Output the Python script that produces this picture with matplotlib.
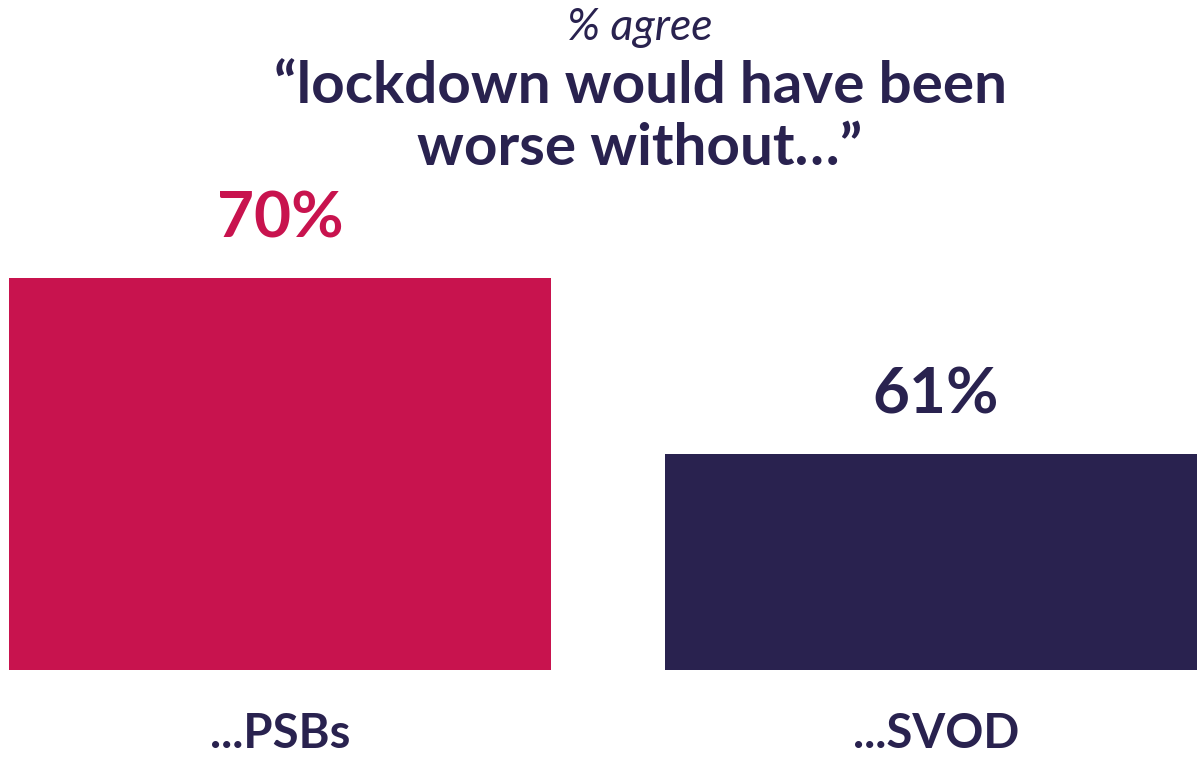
import matplotlib.pyplot as plt

# ---------- data ----------
categories = ["...PSBs", "...SVOD"]
values = [70, 61]
value_labels = ["70%", "61%"]

# ---------- style ----------
crimson = "#C8134E"
navy = "#29224F"
bar_colors = [crimson, navy]
font = "Lato"

fig = plt.figure(figsize=(11.97, 7.57), dpi=100)
fig.patch.set_facecolor("white")

# axes bottom sits on bar baseline, axis does not start at zero
ax = fig.add_axes([0, 87 / 757, 1, 670 / 757])
ax.bar(range(len(values)), values, width=0.826, color=bar_colors, bottom=0)
ax.set_ylim(50, 50 + 670 / 19.6)
ax.set_xlim(-0.427, 1.398)
ax.axis("off")

for i, (v, lab) in enumerate(zip(values, value_labels)):
    ax.annotate(lab, (i, v), xytext=(0, 22), textcoords="offset points",
                ha="center", va="bottom", fontsize=46, fontweight="bold",
                color=bar_colors[i], family=font)

for i, cat in enumerate(categories):
    ax.annotate(cat, (i, 50), xytext=(0, -56), textcoords="offset points",
                ha="center", va="baseline", fontsize=34, fontweight="bold",
                color=navy, family=font)

fig.text(640 / 1197, 1 - 40 / 757, "% agree", ha="center", va="baseline",
         fontsize=32, style="italic", color=navy, family=font)
fig.text(640 / 1197, 1 - 103 / 757, "\u201clockdown would have been",
         ha="center", va="baseline", fontsize=42, fontweight="bold",
         color=navy, family=font)
fig.text(640 / 1197, 1 - 165 / 757, "worse without\u2026\u201d",
         ha="center", va="baseline", fontsize=42, fontweight="bold",
         color=navy, family=font)

fig.savefig("out.png", dpi=100)
